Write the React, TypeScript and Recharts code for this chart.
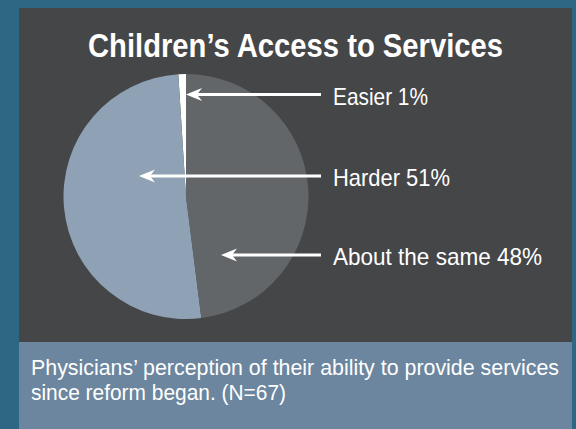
import React from "react";
import { PieChart, Pie, Cell } from "recharts";

const categories = ["Easier", "Harder", "About the same"];
const shares = [1, 51, 48];
const sliceColors = ["#ffffff", "#8fa2b5", "#636669"];
const labelTexts = ["Easier 1%", "Harder 51%", "About the same 48%"];

const title = "Children\u2019s Access to Services";
const captionLines = [
  "Physicians\u2019 perception of their ability to provide services",
  "since reform began. (N=67)",
];

const data = categories.map((name, i) => ({ name, value: shares[i] }));

// arrow tips relative to pie centre, and label widths (layout only)
const arrowTips = [
  { dx: 0, dy: -102 },
  { dx: -47, dy: -20.5 },
  { dx: 35, dy: 58.5 },
];
const labelWidths = [95, 117, 209];

const FONT = "'Liberation Sans', Arial, sans-serif";

const renderArrowLabel = (props: any) => {
  const { cx, cy, index } = props;
  const tip = arrowTips[index];
  const tx = cx + tip.dx;
  const ty = cy + tip.dy;
  const lineEnd = cx + 135;
  return (
    <g key={`lbl-${index}`}>
      <line x1={tx + 10} y1={ty} x2={lineEnd} y2={ty} stroke="#fff" strokeWidth={3} />
      <polygon
        points={`${tx},${ty} ${tx + 16},${ty - 6.5} ${tx + 11},${ty} ${tx + 16},${ty + 6.5}`}
        fill="#fff"
      />
      <text
        x={cx + 147}
        y={ty + 10}
        fill="#fff"
        fontFamily={FONT}
        fontSize={24}
        textLength={labelWidths[index]}
        lengthAdjust="spacingAndGlyphs"
      >
        {labelTexts[index]}
      </text>
    </g>
  );
};

export default function App() {
  return (
    <div
      style={{
        position: "absolute",
        left: 0,
        top: 0,
        width: 576,
        height: 429,
        background: "#2d6784",
        overflow: "hidden",
      }}
    >
      {/* dark panel + caption box */}
      <div style={{ position: "absolute", left: 19, top: 8, width: 553, height: 334, background: "#454648" }} />
      <div style={{ position: "absolute", left: 19, top: 342, width: 553, height: 87, background: "#6b869e" }} />

      <svg width={576} height={429} style={{ position: "absolute", left: 0, top: 0 }}>
        <text
          x={295.5}
          y={57}
          textAnchor="middle"
          fill="#fff"
          fontFamily={FONT}
          fontWeight="bold"
          fontSize={33}
          textLength={415}
          lengthAdjust="spacingAndGlyphs"
        >
          {title}
        </text>
        {captionLines.map((line, i) => (
          <text
            key={i}
            x={31}
            y={375 + i * 25}
            fill="#fff"
            fontFamily={FONT}
            fontSize={22}
            textLength={i === 0 ? 528 : 255}
            lengthAdjust="spacingAndGlyphs"
          >
            {line}
          </text>
        ))}
      </svg>

      <div style={{ position: "absolute", left: 0, top: 0 }}>
        <PieChart width={576} height={429} margin={{ top: 0, right: 0, bottom: 0, left: 0 }}>
          <Pie
            data={data}
            dataKey="value"
            nameKey="name"
            cx={186}
            cy={196.5}
            outerRadius={122.5}
            startAngle={90}
            endAngle={450}
            stroke="none"
            label={renderArrowLabel}
            labelLine={false}
            isAnimationActive={false}
          >
            {data.map((d, i) => (
              <Cell key={d.name} fill={sliceColors[i]} />
            ))}
          </Pie>
        </PieChart>
      </div>
    </div>
  );
}
